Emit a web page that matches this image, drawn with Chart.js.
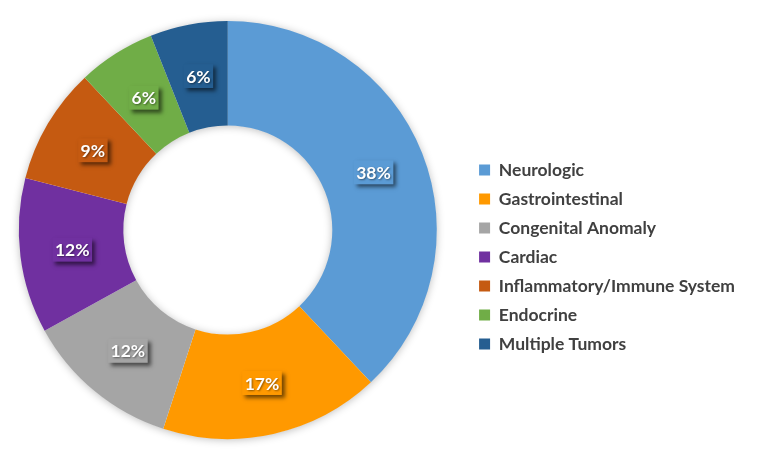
<!DOCTYPE html>
<html>
<head>
<meta charset="utf-8">
<script src="https://cdn.jsdelivr.net/npm/chart.js@4.4.1/dist/chart.umd.min.js"></script>
<style>
  html, body { margin: 0; padding: 0; background: #ffffff; overflow: hidden; }
  #wrap { width: 760px; height: 466px; overflow: hidden; position: relative; }
  #c { position: absolute; left: -12px; top: 0; }
</style>
</head>
<body>
<div id="wrap"><canvas id="c" width="772" height="466"></canvas></div>
<script>
const categories = ["Neurologic", "Gastrointestinal", "Congenital Anomaly", "Cardiac", "Inflammatory/Immune System", "Endocrine", "Multiple Tumors"];
const percentValues = [38, 17, 12, 12, 9, 6, 6];
const sliceColors = ["#5B9BD5", "#FF9900", "#A5A5A5", "#7030A0", "#C55A11", "#70AD47", "#255E91"];

const ringShadow = {
  id: 'ringShadow',
  beforeDatasetsDraw(chart) {
    const meta = chart.getDatasetMeta(0);
    if (!meta.data.length) return;
    const a = meta.data[0];
    const ctx = chart.ctx;
    ctx.save();
    ctx.shadowColor = 'rgba(0,0,0,0.28)';
    ctx.shadowBlur = 9;
    ctx.shadowOffsetX = 0;
    ctx.shadowOffsetY = 1;
    ctx.fillStyle = '#ffffff';
    ctx.beginPath();
    ctx.arc(a.x, a.y, a.outerRadius - 0.5, 0, Math.PI * 2);
    ctx.arc(a.x, a.y, a.innerRadius + 0.5, 0, Math.PI * 2, true);
    ctx.closePath();
    ctx.fill();
    ctx.restore();
  }
};

const sliceLabels = {
  id: 'sliceLabels',
  afterDatasetsDraw(chart) {
    const meta = chart.getDatasetMeta(0);
    const ds = chart.data.datasets[0];
    const ctx = chart.ctx;
    ctx.save();
    ctx.font = 'bold 17.5px Lato';
    ctx.textAlign = 'center';
    ctx.textBaseline = 'middle';
    meta.data.forEach((arc, i) => {
      const p = arc.tooltipPosition();
      const txt = ds.data[i] + '%';
      const w = ctx.measureText(txt).width + 5;
      const h = 24;
      ctx.save();
      ctx.shadowColor = 'rgba(0,0,0,0.55)';
      ctx.shadowBlur = 4;
      ctx.shadowOffsetX = 3;
      ctx.shadowOffsetY = 3;
      ctx.fillStyle = ds.backgroundColor[i];
      ctx.fillRect(p.x - w / 2, p.y - h / 2, w, h);
      ctx.restore();
      ctx.save();
      ctx.shadowColor = 'rgba(0,0,0,0.45)';
      ctx.shadowBlur = 2;
      ctx.shadowOffsetX = 1;
      ctx.shadowOffsetY = 1;
      ctx.fillStyle = '#ffffff';
      ctx.fillText(txt, p.x, p.y + 1);
      ctx.restore();
    });
    ctx.restore();
  }
};

new Chart(document.getElementById('c'), {
  type: 'doughnut',
  data: {
    labels: categories,
    datasets: [{
      data: percentValues,
      backgroundColor: sliceColors,
      borderWidth: 0,
      hoverOffset: 0
    }]
  },
  options: {
    responsive: false,
    animation: false,
    cutout: '50%',
    layout: { padding: { left: 0, top: 21, bottom: 27, right: 15 } },
    plugins: {
      tooltip: { enabled: false },
      legend: {
        position: 'right',
        align: 'start',
        title: { display: true, text: '', font: { size: 10, lineHeight: 1 }, padding: { top: 118.75, bottom: 0 } },
        labels: {
          boxWidth: 11,
          boxHeight: 11,
          padding: 11.5,
          color: '#404040',
          font: { family: 'Lato', size: 17.5, weight: 'bold' }
        }
      }
    }
  },
  plugins: [ringShadow, sliceLabels]
});
</script>
</body>
</html>
